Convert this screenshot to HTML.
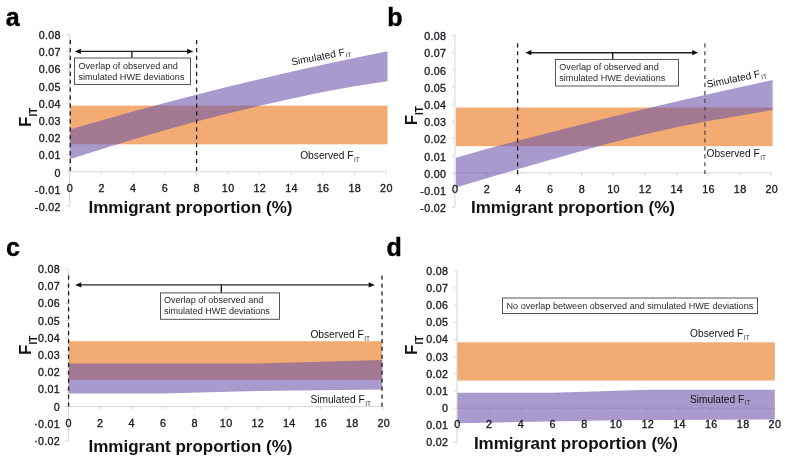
<!DOCTYPE html><html><head><meta charset="utf-8"><style>html,body{margin:0;padding:0;background:#fff;width:785px;height:465px;overflow:hidden}svg{display:block;filter:blur(0.35px)}text{font-family:"Liberation Sans",sans-serif}</style></head><body>
<svg width="785" height="465" viewBox="0 0 785 465">
<rect width="785" height="465" fill="#fff"/>
<line x1="69.70" y1="171.80" x2="386.10" y2="171.80" stroke="#D6D6D6" stroke-width="1"/>
<line x1="69.70" y1="171.80" x2="69.70" y2="174.80" stroke="#D6D6D6" stroke-width="1"/>
<line x1="101.34" y1="171.80" x2="101.34" y2="174.80" stroke="#D6D6D6" stroke-width="1"/>
<line x1="132.98" y1="171.80" x2="132.98" y2="174.80" stroke="#D6D6D6" stroke-width="1"/>
<line x1="164.62" y1="171.80" x2="164.62" y2="174.80" stroke="#D6D6D6" stroke-width="1"/>
<line x1="196.26" y1="171.80" x2="196.26" y2="174.80" stroke="#D6D6D6" stroke-width="1"/>
<line x1="227.90" y1="171.80" x2="227.90" y2="174.80" stroke="#D6D6D6" stroke-width="1"/>
<line x1="259.54" y1="171.80" x2="259.54" y2="174.80" stroke="#D6D6D6" stroke-width="1"/>
<line x1="291.18" y1="171.80" x2="291.18" y2="174.80" stroke="#D6D6D6" stroke-width="1"/>
<line x1="322.82" y1="171.80" x2="322.82" y2="174.80" stroke="#D6D6D6" stroke-width="1"/>
<line x1="354.46" y1="171.80" x2="354.46" y2="174.80" stroke="#D6D6D6" stroke-width="1"/>
<line x1="386.10" y1="171.80" x2="386.10" y2="174.80" stroke="#D6D6D6" stroke-width="1"/>
<rect x="69.70" y="105.60" width="317.80" height="38.70" fill="#F2AB72"/>
<polygon points="69.70,129.60 101.34,120.50 132.98,111.60 164.62,103.00 196.26,94.80 227.90,86.80 259.54,79.20 291.18,71.80 322.82,64.70 354.46,58.00 387.50,51.30 387.50,81.20 354.46,86.20 322.82,92.00 291.18,98.70 259.54,105.80 227.90,113.40 196.26,121.50 164.62,130.20 132.98,139.40 101.34,149.20 69.70,159.20" fill="rgb(110,87,170)" fill-opacity="0.6"/>
<line x1="69.70" y1="34.20" x2="69.70" y2="206.20" stroke="#D6D6D6" stroke-width="1"/>
<line x1="66.50" y1="34.20" x2="69.70" y2="34.20" stroke="#D6D6D6" stroke-width="1"/>
<line x1="66.50" y1="51.40" x2="69.70" y2="51.40" stroke="#D6D6D6" stroke-width="1"/>
<line x1="66.50" y1="68.60" x2="69.70" y2="68.60" stroke="#D6D6D6" stroke-width="1"/>
<line x1="66.50" y1="85.80" x2="69.70" y2="85.80" stroke="#D6D6D6" stroke-width="1"/>
<line x1="66.50" y1="103.00" x2="69.70" y2="103.00" stroke="#D6D6D6" stroke-width="1"/>
<line x1="66.50" y1="120.20" x2="69.70" y2="120.20" stroke="#D6D6D6" stroke-width="1"/>
<line x1="66.50" y1="137.40" x2="69.70" y2="137.40" stroke="#D6D6D6" stroke-width="1"/>
<line x1="66.50" y1="154.60" x2="69.70" y2="154.60" stroke="#D6D6D6" stroke-width="1"/>
<line x1="66.50" y1="171.80" x2="69.70" y2="171.80" stroke="#D6D6D6" stroke-width="1"/>
<line x1="66.50" y1="189.00" x2="69.70" y2="189.00" stroke="#D6D6D6" stroke-width="1"/>
<line x1="66.50" y1="206.20" x2="69.70" y2="206.20" stroke="#D6D6D6" stroke-width="1"/>
<text transform="translate(60.80,39.00) scale(1.05,1)" text-anchor="end" font-size="10.2" letter-spacing="0.3" fill="#17171f" stroke="#17171f" stroke-width="0.3">0.08</text>
<text transform="translate(60.80,56.20) scale(1.05,1)" text-anchor="end" font-size="10.2" letter-spacing="0.3" fill="#17171f" stroke="#17171f" stroke-width="0.3">0.07</text>
<text transform="translate(60.80,73.40) scale(1.05,1)" text-anchor="end" font-size="10.2" letter-spacing="0.3" fill="#17171f" stroke="#17171f" stroke-width="0.3">0.06</text>
<text transform="translate(60.80,90.60) scale(1.05,1)" text-anchor="end" font-size="10.2" letter-spacing="0.3" fill="#17171f" stroke="#17171f" stroke-width="0.3">0.05</text>
<text transform="translate(60.80,107.80) scale(1.05,1)" text-anchor="end" font-size="10.2" letter-spacing="0.3" fill="#17171f" stroke="#17171f" stroke-width="0.3">0.04</text>
<text transform="translate(60.80,125.00) scale(1.05,1)" text-anchor="end" font-size="10.2" letter-spacing="0.3" fill="#17171f" stroke="#17171f" stroke-width="0.3">0.03</text>
<text transform="translate(60.80,142.20) scale(1.05,1)" text-anchor="end" font-size="10.2" letter-spacing="0.3" fill="#17171f" stroke="#17171f" stroke-width="0.3">0.02</text>
<text transform="translate(60.80,159.40) scale(1.05,1)" text-anchor="end" font-size="10.2" letter-spacing="0.3" fill="#17171f" stroke="#17171f" stroke-width="0.3">0.01</text>
<text transform="translate(60.80,176.60) scale(1.05,1)" text-anchor="end" font-size="10.2" letter-spacing="0.3" fill="#17171f" stroke="#17171f" stroke-width="0.3">0</text>
<text transform="translate(60.80,193.80) scale(1.05,1)" text-anchor="end" font-size="10.2" letter-spacing="0.3" fill="#17171f" stroke="#17171f" stroke-width="0.3">-0.01</text>
<text transform="translate(60.80,211.00) scale(1.05,1)" text-anchor="end" font-size="10.2" letter-spacing="0.3" fill="#17171f" stroke="#17171f" stroke-width="0.3">-0.02</text>
<text transform="translate(70.00,191.80) scale(1.06,1)" text-anchor="middle" font-size="10.2" letter-spacing="0.3" fill="#17171f" stroke="#17171f" stroke-width="0.3">0</text>
<text transform="translate(101.64,191.80) scale(1.06,1)" text-anchor="middle" font-size="10.2" letter-spacing="0.3" fill="#17171f" stroke="#17171f" stroke-width="0.3">2</text>
<text transform="translate(133.28,191.80) scale(1.06,1)" text-anchor="middle" font-size="10.2" letter-spacing="0.3" fill="#17171f" stroke="#17171f" stroke-width="0.3">4</text>
<text transform="translate(164.92,191.80) scale(1.06,1)" text-anchor="middle" font-size="10.2" letter-spacing="0.3" fill="#17171f" stroke="#17171f" stroke-width="0.3">6</text>
<text transform="translate(196.56,191.80) scale(1.06,1)" text-anchor="middle" font-size="10.2" letter-spacing="0.3" fill="#17171f" stroke="#17171f" stroke-width="0.3">8</text>
<text transform="translate(228.20,191.80) scale(1.06,1)" text-anchor="middle" font-size="10.2" letter-spacing="0.3" fill="#17171f" stroke="#17171f" stroke-width="0.3">10</text>
<text transform="translate(259.84,191.80) scale(1.06,1)" text-anchor="middle" font-size="10.2" letter-spacing="0.3" fill="#17171f" stroke="#17171f" stroke-width="0.3">12</text>
<text transform="translate(291.48,191.80) scale(1.06,1)" text-anchor="middle" font-size="10.2" letter-spacing="0.3" fill="#17171f" stroke="#17171f" stroke-width="0.3">14</text>
<text transform="translate(323.12,191.80) scale(1.06,1)" text-anchor="middle" font-size="10.2" letter-spacing="0.3" fill="#17171f" stroke="#17171f" stroke-width="0.3">16</text>
<text transform="translate(354.76,191.80) scale(1.06,1)" text-anchor="middle" font-size="10.2" letter-spacing="0.3" fill="#17171f" stroke="#17171f" stroke-width="0.3">18</text>
<text transform="translate(386.40,191.80) scale(1.06,1)" text-anchor="middle" font-size="10.2" letter-spacing="0.3" fill="#17171f" stroke="#17171f" stroke-width="0.3">20</text>
<line x1="70.30" y1="40.00" x2="70.30" y2="171.80" stroke="#222" stroke-width="1.3" stroke-dasharray="4.2 3.73"/>
<line x1="196.60" y1="40.00" x2="196.60" y2="171.80" stroke="#222" stroke-width="1.3" stroke-dasharray="4.2 3.73"/>
<text x="88.50" y="212.70" font-size="17" font-weight="bold" fill="#111">Immigrant proportion (%)</text>
<text x="5.70" y="26.00" font-size="25" font-weight="bold" fill="#000" stroke="#000" stroke-width="0.4">a</text>
<text transform="translate(30.60,127.00) rotate(-90)" font-size="17" font-weight="bold" fill="#111">F<tspan font-size="10" dy="6">IT</tspan></text>
<line x1="454.90" y1="172.90" x2="771.50" y2="172.90" stroke="#D6D6D6" stroke-width="1"/>
<line x1="454.90" y1="172.90" x2="454.90" y2="175.90" stroke="#D6D6D6" stroke-width="1"/>
<line x1="486.56" y1="172.90" x2="486.56" y2="175.90" stroke="#D6D6D6" stroke-width="1"/>
<line x1="518.22" y1="172.90" x2="518.22" y2="175.90" stroke="#D6D6D6" stroke-width="1"/>
<line x1="549.88" y1="172.90" x2="549.88" y2="175.90" stroke="#D6D6D6" stroke-width="1"/>
<line x1="581.54" y1="172.90" x2="581.54" y2="175.90" stroke="#D6D6D6" stroke-width="1"/>
<line x1="613.20" y1="172.90" x2="613.20" y2="175.90" stroke="#D6D6D6" stroke-width="1"/>
<line x1="644.86" y1="172.90" x2="644.86" y2="175.90" stroke="#D6D6D6" stroke-width="1"/>
<line x1="676.52" y1="172.90" x2="676.52" y2="175.90" stroke="#D6D6D6" stroke-width="1"/>
<line x1="708.18" y1="172.90" x2="708.18" y2="175.90" stroke="#D6D6D6" stroke-width="1"/>
<line x1="739.84" y1="172.90" x2="739.84" y2="175.90" stroke="#D6D6D6" stroke-width="1"/>
<line x1="771.50" y1="172.90" x2="771.50" y2="175.90" stroke="#D6D6D6" stroke-width="1"/>
<rect x="455.90" y="107.50" width="316.70" height="38.70" fill="#F2AB72"/>
<polygon points="455.90,157.80 486.56,149.10 518.22,140.70 549.88,132.50 581.54,124.50 613.20,116.60 644.86,109.00 676.52,101.50 708.18,94.30 739.84,87.20 772.60,80.10 772.60,110.00 708.18,121.00 676.52,127.20 644.86,134.30 613.20,142.30 581.54,151.00 518.22,169.00 455.90,187.50" fill="rgb(110,87,170)" fill-opacity="0.6"/>
<line x1="454.90" y1="35.46" x2="454.90" y2="207.26" stroke="#D6D6D6" stroke-width="1"/>
<line x1="451.70" y1="35.46" x2="454.90" y2="35.46" stroke="#D6D6D6" stroke-width="1"/>
<line x1="451.70" y1="52.64" x2="454.90" y2="52.64" stroke="#D6D6D6" stroke-width="1"/>
<line x1="451.70" y1="69.82" x2="454.90" y2="69.82" stroke="#D6D6D6" stroke-width="1"/>
<line x1="451.70" y1="87.00" x2="454.90" y2="87.00" stroke="#D6D6D6" stroke-width="1"/>
<line x1="451.70" y1="104.18" x2="454.90" y2="104.18" stroke="#D6D6D6" stroke-width="1"/>
<line x1="451.70" y1="121.36" x2="454.90" y2="121.36" stroke="#D6D6D6" stroke-width="1"/>
<line x1="451.70" y1="138.54" x2="454.90" y2="138.54" stroke="#D6D6D6" stroke-width="1"/>
<line x1="451.70" y1="155.72" x2="454.90" y2="155.72" stroke="#D6D6D6" stroke-width="1"/>
<line x1="451.70" y1="172.90" x2="454.90" y2="172.90" stroke="#D6D6D6" stroke-width="1"/>
<line x1="451.70" y1="190.08" x2="454.90" y2="190.08" stroke="#D6D6D6" stroke-width="1"/>
<line x1="451.70" y1="207.26" x2="454.90" y2="207.26" stroke="#D6D6D6" stroke-width="1"/>
<text transform="translate(446.30,40.26) scale(1.05,1)" text-anchor="end" font-size="10.2" letter-spacing="0.3" fill="#17171f" stroke="#17171f" stroke-width="0.3">0.08</text>
<text transform="translate(446.30,57.44) scale(1.05,1)" text-anchor="end" font-size="10.2" letter-spacing="0.3" fill="#17171f" stroke="#17171f" stroke-width="0.3">0.07</text>
<text transform="translate(446.30,74.62) scale(1.05,1)" text-anchor="end" font-size="10.2" letter-spacing="0.3" fill="#17171f" stroke="#17171f" stroke-width="0.3">0.06</text>
<text transform="translate(446.30,91.80) scale(1.05,1)" text-anchor="end" font-size="10.2" letter-spacing="0.3" fill="#17171f" stroke="#17171f" stroke-width="0.3">0.05</text>
<text transform="translate(446.30,108.98) scale(1.05,1)" text-anchor="end" font-size="10.2" letter-spacing="0.3" fill="#17171f" stroke="#17171f" stroke-width="0.3">0.04</text>
<text transform="translate(446.30,126.16) scale(1.05,1)" text-anchor="end" font-size="10.2" letter-spacing="0.3" fill="#17171f" stroke="#17171f" stroke-width="0.3">0.03</text>
<text transform="translate(446.30,143.34) scale(1.05,1)" text-anchor="end" font-size="10.2" letter-spacing="0.3" fill="#17171f" stroke="#17171f" stroke-width="0.3">0.02</text>
<text transform="translate(446.30,160.52) scale(1.05,1)" text-anchor="end" font-size="10.2" letter-spacing="0.3" fill="#17171f" stroke="#17171f" stroke-width="0.3">0.01</text>
<text transform="translate(446.30,177.70) scale(1.05,1)" text-anchor="end" font-size="10.2" letter-spacing="0.3" fill="#17171f" stroke="#17171f" stroke-width="0.3">0.00</text>
<text transform="translate(446.30,194.88) scale(1.05,1)" text-anchor="end" font-size="10.2" letter-spacing="0.3" fill="#17171f" stroke="#17171f" stroke-width="0.3">-0.01</text>
<text transform="translate(446.30,212.06) scale(1.05,1)" text-anchor="end" font-size="10.2" letter-spacing="0.3" fill="#17171f" stroke="#17171f" stroke-width="0.3">-0.02</text>
<text transform="translate(455.20,192.90) scale(1.06,1)" text-anchor="middle" font-size="10.2" letter-spacing="0.3" fill="#17171f" stroke="#17171f" stroke-width="0.3">0</text>
<text transform="translate(486.86,192.90) scale(1.06,1)" text-anchor="middle" font-size="10.2" letter-spacing="0.3" fill="#17171f" stroke="#17171f" stroke-width="0.3">2</text>
<text transform="translate(518.52,192.90) scale(1.06,1)" text-anchor="middle" font-size="10.2" letter-spacing="0.3" fill="#17171f" stroke="#17171f" stroke-width="0.3">4</text>
<text transform="translate(550.18,192.90) scale(1.06,1)" text-anchor="middle" font-size="10.2" letter-spacing="0.3" fill="#17171f" stroke="#17171f" stroke-width="0.3">6</text>
<text transform="translate(581.84,192.90) scale(1.06,1)" text-anchor="middle" font-size="10.2" letter-spacing="0.3" fill="#17171f" stroke="#17171f" stroke-width="0.3">8</text>
<text transform="translate(613.50,192.90) scale(1.06,1)" text-anchor="middle" font-size="10.2" letter-spacing="0.3" fill="#17171f" stroke="#17171f" stroke-width="0.3">10</text>
<text transform="translate(645.16,192.90) scale(1.06,1)" text-anchor="middle" font-size="10.2" letter-spacing="0.3" fill="#17171f" stroke="#17171f" stroke-width="0.3">12</text>
<text transform="translate(676.82,192.90) scale(1.06,1)" text-anchor="middle" font-size="10.2" letter-spacing="0.3" fill="#17171f" stroke="#17171f" stroke-width="0.3">14</text>
<text transform="translate(708.48,192.90) scale(1.06,1)" text-anchor="middle" font-size="10.2" letter-spacing="0.3" fill="#17171f" stroke="#17171f" stroke-width="0.3">16</text>
<text transform="translate(740.14,192.90) scale(1.06,1)" text-anchor="middle" font-size="10.2" letter-spacing="0.3" fill="#17171f" stroke="#17171f" stroke-width="0.3">18</text>
<text transform="translate(771.80,192.90) scale(1.06,1)" text-anchor="middle" font-size="10.2" letter-spacing="0.3" fill="#17171f" stroke="#17171f" stroke-width="0.3">20</text>
<line x1="517.60" y1="43.20" x2="517.60" y2="175.00" stroke="#222" stroke-width="1.3" stroke-dasharray="4.2 3.73"/>
<line x1="704.90" y1="43.20" x2="704.90" y2="175.00" stroke="#505058" stroke-width="1.3" stroke-dasharray="4.2 3.73"/>
<text x="471.00" y="212.70" font-size="17" font-weight="bold" fill="#111">Immigrant proportion (%)</text>
<text x="387.20" y="25.80" font-size="25" font-weight="bold" fill="#000" stroke="#000" stroke-width="0.4">b</text>
<text transform="translate(416.90,125.30) rotate(-90)" font-size="17" font-weight="bold" fill="#111">F<tspan font-size="10" dy="6">IT</tspan></text>
<line x1="68.30" y1="406.60" x2="383.50" y2="406.60" stroke="#D6D6D6" stroke-width="1"/>
<line x1="68.30" y1="406.60" x2="68.30" y2="409.60" stroke="#D6D6D6" stroke-width="1"/>
<line x1="99.82" y1="406.60" x2="99.82" y2="409.60" stroke="#D6D6D6" stroke-width="1"/>
<line x1="131.34" y1="406.60" x2="131.34" y2="409.60" stroke="#D6D6D6" stroke-width="1"/>
<line x1="162.86" y1="406.60" x2="162.86" y2="409.60" stroke="#D6D6D6" stroke-width="1"/>
<line x1="194.38" y1="406.60" x2="194.38" y2="409.60" stroke="#D6D6D6" stroke-width="1"/>
<line x1="225.90" y1="406.60" x2="225.90" y2="409.60" stroke="#D6D6D6" stroke-width="1"/>
<line x1="257.42" y1="406.60" x2="257.42" y2="409.60" stroke="#D6D6D6" stroke-width="1"/>
<line x1="288.94" y1="406.60" x2="288.94" y2="409.60" stroke="#D6D6D6" stroke-width="1"/>
<line x1="320.46" y1="406.60" x2="320.46" y2="409.60" stroke="#D6D6D6" stroke-width="1"/>
<line x1="351.98" y1="406.60" x2="351.98" y2="409.60" stroke="#D6D6D6" stroke-width="1"/>
<line x1="383.50" y1="406.60" x2="383.50" y2="409.60" stroke="#D6D6D6" stroke-width="1"/>
<rect x="68.30" y="341.20" width="313.90" height="38.70" fill="#F2AB72"/>
<polygon points="68.30,363.40 162.86,363.40 257.42,363.40 382.20,360.00 382.20,389.60 257.42,391.10 162.86,393.60 68.30,393.60" fill="rgb(110,87,170)" fill-opacity="0.6"/>
<line x1="68.30" y1="269.00" x2="68.30" y2="441.00" stroke="#D6D6D6" stroke-width="1"/>
<line x1="65.10" y1="269.00" x2="68.30" y2="269.00" stroke="#D6D6D6" stroke-width="1"/>
<line x1="65.10" y1="286.20" x2="68.30" y2="286.20" stroke="#D6D6D6" stroke-width="1"/>
<line x1="65.10" y1="303.40" x2="68.30" y2="303.40" stroke="#D6D6D6" stroke-width="1"/>
<line x1="65.10" y1="320.60" x2="68.30" y2="320.60" stroke="#D6D6D6" stroke-width="1"/>
<line x1="65.10" y1="337.80" x2="68.30" y2="337.80" stroke="#D6D6D6" stroke-width="1"/>
<line x1="65.10" y1="355.00" x2="68.30" y2="355.00" stroke="#D6D6D6" stroke-width="1"/>
<line x1="65.10" y1="372.20" x2="68.30" y2="372.20" stroke="#D6D6D6" stroke-width="1"/>
<line x1="65.10" y1="389.40" x2="68.30" y2="389.40" stroke="#D6D6D6" stroke-width="1"/>
<line x1="65.10" y1="406.60" x2="68.30" y2="406.60" stroke="#D6D6D6" stroke-width="1"/>
<line x1="65.10" y1="423.80" x2="68.30" y2="423.80" stroke="#D6D6D6" stroke-width="1"/>
<line x1="65.10" y1="441.00" x2="68.30" y2="441.00" stroke="#D6D6D6" stroke-width="1"/>
<text transform="translate(60.10,272.90) scale(1.05,1)" text-anchor="end" font-size="10.2" letter-spacing="0.3" fill="#17171f" stroke="#17171f" stroke-width="0.3">0.08</text>
<text transform="translate(60.10,290.10) scale(1.05,1)" text-anchor="end" font-size="10.2" letter-spacing="0.3" fill="#17171f" stroke="#17171f" stroke-width="0.3">0.07</text>
<text transform="translate(60.10,307.30) scale(1.05,1)" text-anchor="end" font-size="10.2" letter-spacing="0.3" fill="#17171f" stroke="#17171f" stroke-width="0.3">0.06</text>
<text transform="translate(60.10,324.50) scale(1.05,1)" text-anchor="end" font-size="10.2" letter-spacing="0.3" fill="#17171f" stroke="#17171f" stroke-width="0.3">0.05</text>
<text transform="translate(60.10,341.70) scale(1.05,1)" text-anchor="end" font-size="10.2" letter-spacing="0.3" fill="#17171f" stroke="#17171f" stroke-width="0.3">0.04</text>
<text transform="translate(60.10,358.90) scale(1.05,1)" text-anchor="end" font-size="10.2" letter-spacing="0.3" fill="#17171f" stroke="#17171f" stroke-width="0.3">0.03</text>
<text transform="translate(60.10,376.10) scale(1.05,1)" text-anchor="end" font-size="10.2" letter-spacing="0.3" fill="#17171f" stroke="#17171f" stroke-width="0.3">0.02</text>
<text transform="translate(60.10,393.30) scale(1.05,1)" text-anchor="end" font-size="10.2" letter-spacing="0.3" fill="#17171f" stroke="#17171f" stroke-width="0.3">0.01</text>
<text transform="translate(60.10,410.50) scale(1.05,1)" text-anchor="end" font-size="10.2" letter-spacing="0.3" fill="#17171f" stroke="#17171f" stroke-width="0.3">0</text>
<text transform="translate(60.10,427.70) scale(1.05,1)" text-anchor="end" font-size="10.2" letter-spacing="0.3" fill="#17171f" stroke="#17171f" stroke-width="0.3">·0.01</text>
<text transform="translate(60.10,444.90) scale(1.05,1)" text-anchor="end" font-size="10.2" letter-spacing="0.3" fill="#17171f" stroke="#17171f" stroke-width="0.3">·0.02</text>
<text transform="translate(68.60,426.80) scale(1.06,1)" text-anchor="middle" font-size="10.2" letter-spacing="0.3" fill="#17171f" stroke="#17171f" stroke-width="0.3">0</text>
<text transform="translate(100.12,426.80) scale(1.06,1)" text-anchor="middle" font-size="10.2" letter-spacing="0.3" fill="#17171f" stroke="#17171f" stroke-width="0.3">2</text>
<text transform="translate(131.64,426.80) scale(1.06,1)" text-anchor="middle" font-size="10.2" letter-spacing="0.3" fill="#17171f" stroke="#17171f" stroke-width="0.3">4</text>
<text transform="translate(163.16,426.80) scale(1.06,1)" text-anchor="middle" font-size="10.2" letter-spacing="0.3" fill="#17171f" stroke="#17171f" stroke-width="0.3">6</text>
<text transform="translate(194.68,426.80) scale(1.06,1)" text-anchor="middle" font-size="10.2" letter-spacing="0.3" fill="#17171f" stroke="#17171f" stroke-width="0.3">8</text>
<text transform="translate(226.20,426.80) scale(1.06,1)" text-anchor="middle" font-size="10.2" letter-spacing="0.3" fill="#17171f" stroke="#17171f" stroke-width="0.3">10</text>
<text transform="translate(257.72,426.80) scale(1.06,1)" text-anchor="middle" font-size="10.2" letter-spacing="0.3" fill="#17171f" stroke="#17171f" stroke-width="0.3">12</text>
<text transform="translate(289.24,426.80) scale(1.06,1)" text-anchor="middle" font-size="10.2" letter-spacing="0.3" fill="#17171f" stroke="#17171f" stroke-width="0.3">14</text>
<text transform="translate(320.76,426.80) scale(1.06,1)" text-anchor="middle" font-size="10.2" letter-spacing="0.3" fill="#17171f" stroke="#17171f" stroke-width="0.3">16</text>
<text transform="translate(352.28,426.80) scale(1.06,1)" text-anchor="middle" font-size="10.2" letter-spacing="0.3" fill="#17171f" stroke="#17171f" stroke-width="0.3">18</text>
<text transform="translate(383.80,426.80) scale(1.06,1)" text-anchor="middle" font-size="10.2" letter-spacing="0.3" fill="#17171f" stroke="#17171f" stroke-width="0.3">20</text>
<line x1="68.60" y1="275.50" x2="68.60" y2="406.60" stroke="#222" stroke-width="1.3" stroke-dasharray="4.2 3.73"/>
<line x1="382.00" y1="275.50" x2="382.00" y2="406.60" stroke="#222" stroke-width="1.3" stroke-dasharray="4.2 3.73"/>
<text x="88.50" y="452.10" font-size="17" font-weight="bold" fill="#111">Immigrant proportion (%)</text>
<text x="5.90" y="256.30" font-size="25" font-weight="bold" fill="#000" stroke="#000" stroke-width="0.4">c</text>
<text transform="translate(30.80,354.90) rotate(-90)" font-size="17" font-weight="bold" fill="#111">F<tspan font-size="10" dy="6">IT</tspan></text>
<line x1="457.00" y1="408.20" x2="774.60" y2="408.20" stroke="#D6D6D6" stroke-width="1"/>
<line x1="457.00" y1="408.20" x2="457.00" y2="411.20" stroke="#D6D6D6" stroke-width="1"/>
<line x1="488.76" y1="408.20" x2="488.76" y2="411.20" stroke="#D6D6D6" stroke-width="1"/>
<line x1="520.52" y1="408.20" x2="520.52" y2="411.20" stroke="#D6D6D6" stroke-width="1"/>
<line x1="552.28" y1="408.20" x2="552.28" y2="411.20" stroke="#D6D6D6" stroke-width="1"/>
<line x1="584.04" y1="408.20" x2="584.04" y2="411.20" stroke="#D6D6D6" stroke-width="1"/>
<line x1="615.80" y1="408.20" x2="615.80" y2="411.20" stroke="#D6D6D6" stroke-width="1"/>
<line x1="647.56" y1="408.20" x2="647.56" y2="411.20" stroke="#D6D6D6" stroke-width="1"/>
<line x1="679.32" y1="408.20" x2="679.32" y2="411.20" stroke="#D6D6D6" stroke-width="1"/>
<line x1="711.08" y1="408.20" x2="711.08" y2="411.20" stroke="#D6D6D6" stroke-width="1"/>
<line x1="742.84" y1="408.20" x2="742.84" y2="411.20" stroke="#D6D6D6" stroke-width="1"/>
<line x1="774.60" y1="408.20" x2="774.60" y2="411.20" stroke="#D6D6D6" stroke-width="1"/>
<rect x="457.00" y="342.30" width="317.80" height="38.30" fill="#F2AB72"/>
<polygon points="457.00,392.70 552.28,392.70 647.56,389.80 774.80,389.80 774.80,419.40 615.80,420.20 457.00,423.20" fill="rgb(110,87,170)" fill-opacity="0.6"/>
<line x1="457.00" y1="270.76" x2="457.00" y2="442.56" stroke="#D6D6D6" stroke-width="1"/>
<line x1="453.80" y1="270.76" x2="457.00" y2="270.76" stroke="#D6D6D6" stroke-width="1"/>
<line x1="453.80" y1="287.94" x2="457.00" y2="287.94" stroke="#D6D6D6" stroke-width="1"/>
<line x1="453.80" y1="305.12" x2="457.00" y2="305.12" stroke="#D6D6D6" stroke-width="1"/>
<line x1="453.80" y1="322.30" x2="457.00" y2="322.30" stroke="#D6D6D6" stroke-width="1"/>
<line x1="453.80" y1="339.48" x2="457.00" y2="339.48" stroke="#D6D6D6" stroke-width="1"/>
<line x1="453.80" y1="356.66" x2="457.00" y2="356.66" stroke="#D6D6D6" stroke-width="1"/>
<line x1="453.80" y1="373.84" x2="457.00" y2="373.84" stroke="#D6D6D6" stroke-width="1"/>
<line x1="453.80" y1="391.02" x2="457.00" y2="391.02" stroke="#D6D6D6" stroke-width="1"/>
<line x1="453.80" y1="408.20" x2="457.00" y2="408.20" stroke="#D6D6D6" stroke-width="1"/>
<line x1="453.80" y1="425.38" x2="457.00" y2="425.38" stroke="#D6D6D6" stroke-width="1"/>
<line x1="453.80" y1="442.56" x2="457.00" y2="442.56" stroke="#D6D6D6" stroke-width="1"/>
<text transform="translate(448.30,274.66) scale(1.05,1)" text-anchor="end" font-size="10.2" letter-spacing="0.3" fill="#17171f" stroke="#17171f" stroke-width="0.3">0.08</text>
<text transform="translate(448.30,291.84) scale(1.05,1)" text-anchor="end" font-size="10.2" letter-spacing="0.3" fill="#17171f" stroke="#17171f" stroke-width="0.3">0.07</text>
<text transform="translate(448.30,309.02) scale(1.05,1)" text-anchor="end" font-size="10.2" letter-spacing="0.3" fill="#17171f" stroke="#17171f" stroke-width="0.3">0.06</text>
<text transform="translate(448.30,326.20) scale(1.05,1)" text-anchor="end" font-size="10.2" letter-spacing="0.3" fill="#17171f" stroke="#17171f" stroke-width="0.3">0.05</text>
<text transform="translate(448.30,343.38) scale(1.05,1)" text-anchor="end" font-size="10.2" letter-spacing="0.3" fill="#17171f" stroke="#17171f" stroke-width="0.3">0.04</text>
<text transform="translate(448.30,360.56) scale(1.05,1)" text-anchor="end" font-size="10.2" letter-spacing="0.3" fill="#17171f" stroke="#17171f" stroke-width="0.3">0.03</text>
<text transform="translate(448.30,377.74) scale(1.05,1)" text-anchor="end" font-size="10.2" letter-spacing="0.3" fill="#17171f" stroke="#17171f" stroke-width="0.3">0.02</text>
<text transform="translate(448.30,394.92) scale(1.05,1)" text-anchor="end" font-size="10.2" letter-spacing="0.3" fill="#17171f" stroke="#17171f" stroke-width="0.3">0.01</text>
<text transform="translate(448.30,412.10) scale(1.05,1)" text-anchor="end" font-size="10.2" letter-spacing="0.3" fill="#17171f" stroke="#17171f" stroke-width="0.3">0</text>
<text transform="translate(448.30,429.28) scale(1.05,1)" text-anchor="end" font-size="10.2" letter-spacing="0.3" fill="#17171f" stroke="#17171f" stroke-width="0.3">0.01</text>
<text transform="translate(448.30,446.46) scale(1.05,1)" text-anchor="end" font-size="10.2" letter-spacing="0.3" fill="#17171f" stroke="#17171f" stroke-width="0.3">0.02</text>
<text transform="translate(457.30,428.10) scale(1.06,1)" text-anchor="middle" font-size="10.2" letter-spacing="0.3" fill="#17171f" stroke="#17171f" stroke-width="0.3">0</text>
<text transform="translate(489.06,428.10) scale(1.06,1)" text-anchor="middle" font-size="10.2" letter-spacing="0.3" fill="#17171f" stroke="#17171f" stroke-width="0.3">2</text>
<text transform="translate(520.82,428.10) scale(1.06,1)" text-anchor="middle" font-size="10.2" letter-spacing="0.3" fill="#17171f" stroke="#17171f" stroke-width="0.3">4</text>
<text transform="translate(552.58,428.10) scale(1.06,1)" text-anchor="middle" font-size="10.2" letter-spacing="0.3" fill="#17171f" stroke="#17171f" stroke-width="0.3">6</text>
<text transform="translate(584.34,428.10) scale(1.06,1)" text-anchor="middle" font-size="10.2" letter-spacing="0.3" fill="#17171f" stroke="#17171f" stroke-width="0.3">8</text>
<text transform="translate(616.10,428.10) scale(1.06,1)" text-anchor="middle" font-size="10.2" letter-spacing="0.3" fill="#17171f" stroke="#17171f" stroke-width="0.3">10</text>
<text transform="translate(647.86,428.10) scale(1.06,1)" text-anchor="middle" font-size="10.2" letter-spacing="0.3" fill="#17171f" stroke="#17171f" stroke-width="0.3">12</text>
<text transform="translate(679.62,428.10) scale(1.06,1)" text-anchor="middle" font-size="10.2" letter-spacing="0.3" fill="#17171f" stroke="#17171f" stroke-width="0.3">14</text>
<text transform="translate(711.38,428.10) scale(1.06,1)" text-anchor="middle" font-size="10.2" letter-spacing="0.3" fill="#17171f" stroke="#17171f" stroke-width="0.3">16</text>
<text transform="translate(743.14,428.10) scale(1.06,1)" text-anchor="middle" font-size="10.2" letter-spacing="0.3" fill="#17171f" stroke="#17171f" stroke-width="0.3">18</text>
<text transform="translate(774.90,428.10) scale(1.06,1)" text-anchor="middle" font-size="10.2" letter-spacing="0.3" fill="#17171f" stroke="#17171f" stroke-width="0.3">20</text>
<text x="473.90" y="449.00" font-size="17" font-weight="bold" fill="#111">Immigrant proportion (%)</text>
<text x="386.60" y="256.20" font-size="25" font-weight="bold" fill="#000" stroke="#000" stroke-width="0.4">d</text>
<text transform="translate(416.90,355.00) rotate(-90)" font-size="17" font-weight="bold" fill="#111">F<tspan font-size="10" dy="6">IT</tspan></text>
<line x1="77.80" y1="51.40" x2="190.30" y2="51.40" stroke="#222" stroke-width="1.4"/>
<path d="M74.80,51.40 L80.90,48.75 L80.90,54.05 Z" fill="#111"/>
<path d="M193.30,51.40 L187.20,48.75 L187.20,54.05 Z" fill="#111"/>
<line x1="131.90" y1="51.40" x2="131.90" y2="58.00" stroke="#111" stroke-width="1.3"/>
<rect x="74.50" y="58.00" width="116.00" height="26.50" fill="#fff" stroke="#555" stroke-width="1"/>
<text x="78.50" y="68.50" font-size="9.08" fill="#2a2a2a">Overlap of observed and</text>
<text x="78.50" y="79.60" font-size="9.08" fill="#2a2a2a">simulated HWE deviations</text>
<line x1="528.30" y1="52.70" x2="695.20" y2="52.70" stroke="#222" stroke-width="1.4"/>
<path d="M525.30,52.70 L531.40,50.05 L531.40,55.35 Z" fill="#111"/>
<path d="M698.20,52.70 L692.10,50.05 L692.10,55.35 Z" fill="#111"/>
<line x1="612.70" y1="52.70" x2="612.70" y2="59.50" stroke="#111" stroke-width="1.3"/>
<rect x="555.50" y="59.50" width="123.00" height="26.50" fill="#fff" stroke="#555" stroke-width="1"/>
<text x="559.30" y="70.20" font-size="9.08" fill="#2a2a2a">Overlap of observed and</text>
<text x="559.30" y="80.90" font-size="9.08" fill="#2a2a2a">simulated HWE deviations</text>
<line x1="78.20" y1="284.90" x2="371.80" y2="284.90" stroke="#222" stroke-width="1.4"/>
<path d="M75.20,284.90 L81.30,282.25 L81.30,287.55 Z" fill="#111"/>
<path d="M374.80,284.90 L368.70,282.25 L368.70,287.55 Z" fill="#111"/>
<line x1="221.30" y1="284.90" x2="221.30" y2="292.90" stroke="#111" stroke-width="1.3"/>
<rect x="160.50" y="292.90" width="119.00" height="26.40" fill="#fff" stroke="#555" stroke-width="1"/>
<text x="163.90" y="303.40" font-size="9.08" fill="#2a2a2a">Overlap of observed and</text>
<text x="163.90" y="314.00" font-size="9.08" fill="#2a2a2a">simulated HWE deviations</text>
<rect x="502.5" y="298.0" width="255.0" height="15.5" fill="#fff" stroke="#555" stroke-width="1"/>
<text x="506.5" y="308.7" font-size="9.08" fill="#2a2a2a">No overlap between observed and simulated HWE deviations</text>
<text transform="translate(291.90,65.60) rotate(-11)" font-size="10.2" fill="#141414">Simulated F<tspan font-size="6.6" dx="0.5" dy="2.7" fill="#3a3a44">IT</tspan></text>
<text transform="translate(300.20,158.80)" font-size="10.2" fill="#141414">Observed F<tspan font-size="6.6" dx="0.5" dy="2.7" fill="#3a3a44">IT</tspan></text>
<text transform="translate(707.40,87.70) rotate(-11.3)" font-size="10.2" fill="#141414">Simulated F<tspan font-size="6.6" dx="0.5" dy="2.7" fill="#3a3a44">IT</tspan></text>
<text transform="translate(706.50,157.30)" font-size="10.2" fill="#141414">Observed F<tspan font-size="6.6" dx="0.5" dy="2.7" fill="#3a3a44">IT</tspan></text>
<text transform="translate(310.40,337.80)" font-size="10.2" fill="#141414">Observed F<tspan font-size="6.6" dx="0.5" dy="2.7" fill="#3a3a44">IT</tspan></text>
<text transform="translate(310.40,402.80)" font-size="10.2" fill="#141414">Simulated F<tspan font-size="6.6" dx="0.5" dy="2.7" fill="#3a3a44">IT</tspan></text>
<text transform="translate(690.10,337.00)" font-size="10.2" fill="#141414">Observed F<tspan font-size="6.6" dx="0.5" dy="2.7" fill="#3a3a44">IT</tspan></text>
<text transform="translate(689.90,402.60)" font-size="10.2" fill="#141414">Simulated F<tspan font-size="6.6" dx="0.5" dy="2.7" fill="#3a3a44">IT</tspan></text>
</svg></body></html>
